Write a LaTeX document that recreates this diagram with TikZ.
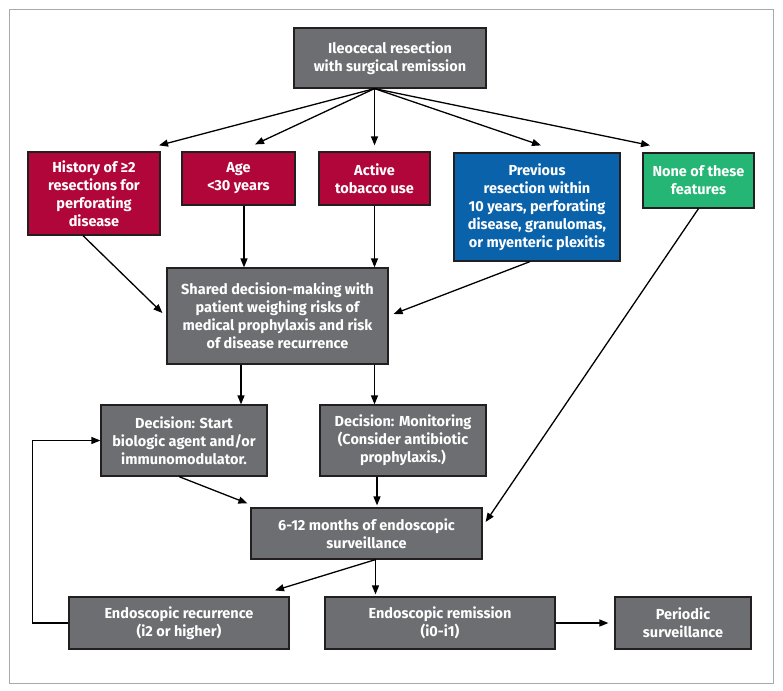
\documentclass[tikz,border=0pt]{standalone}
\usepackage{fontspec}
\setmainfont{Fira Sans}[BoldFont={Fira Sans Bold}]
\usetikzlibrary{arrows.meta}
\definecolor{boxgray}{HTML}{6D6E71}
\definecolor{boxred}{HTML}{B1063A}
\definecolor{boxblue}{HTML}{0A62AA}
\definecolor{boxgreen}{HTML}{25B574}
\definecolor{edge}{HTML}{231F20}
\definecolor{framegray}{HTML}{A7A9AC}
\tikzset{
  box/.style={draw=edge, line width=1.2pt, fill=boxgray, text=white, align=center,
    font=\fontsize{14.5}{18}\selectfont\bfseries, inner sep=2pt},
  redbox/.style={box, fill=boxred},
  bluebox/.style={box, fill=boxblue},
  greenbox/.style={box, fill=boxgreen},
  arr/.style={draw=black, line width=1.3pt, -{Triangle[length=9pt,width=7pt]}},
}
\begin{document}
\begin{tikzpicture}[x=1pt,y=-1pt]
\useasboundingbox (0,0) rectangle (783,690);
\fill[white] (0,0) rectangle (783,690);
\draw[framegray, line width=1pt] (9,10) rectangle (773,683);

\node[box, minimum width=192pt, minimum height=60pt] (top) at (390,58) {Ileocecal resection\\with surgical remission};

\node[redbox, minimum width=132pt, minimum height=83pt] (hist) at (94,193.5) {History of ≥2\\resections for\\perforating\\disease};
\node[redbox, minimum width=113pt, minimum height=53pt] (age) at (238.5,178.5) {Age\\<30 years};
\node[redbox, minimum width=111pt, minimum height=53pt] (act) at (374.5,178.5) {Active\\tobacco use};
\node[bluebox, minimum width=166pt, minimum height=108pt] (prev) at (537,207) {Previous\\resection within\\10 years, perforating\\disease, granulomas,\\or myenteric plexitis};
\node[greenbox, minimum width=111pt, minimum height=55pt] (none) at (698.5,180.5) {None of these\\features};

\node[box, minimum width=221pt, minimum height=96pt] (shared) at (277.5,316) {Shared decision-making with\\patient weighing risks of\\medical prophylaxis and risk\\of disease recurrence};

\node[box, minimum width=166pt, minimum height=71pt] (start) at (184,440.5) {Decision: Start\\biologic agent and/or\\immunomodulator.};
\node[box, minimum width=166pt, minimum height=71pt] (mon) at (403,440.5) {Decision: Monitoring\\(Consider antibiotic\\prophylaxis.)};

\node[box, minimum width=231pt, minimum height=51pt] (surv) at (366.5,533.5) {6-12 months of endoscopic\\surveillance};

\node[box, minimum width=220pt, minimum height=52pt] (rec) at (179,623) {Endoscopic recurrence\\(i2 or higher)};
\node[box, minimum width=230pt, minimum height=52pt] (rem) at (440,623) {Endoscopic remission\\(i0-i1)};
\node[box, minimum width=136pt, minimum height=52pt] (per) at (683,623) {Periodic\\surveillance};

% fan from top
\coordinate (fan) at (top.south -| act.north);
\draw[arr] (fan) -- ([xshift=65pt,yshift=6pt]hist.north);
\draw[arr] (fan) -- ([xshift=16.5pt,yshift=7pt]age.north);
\draw[arr] (fan) -- ([yshift=6pt]act.north);
\draw[arr] (fan) -- ([xshift=4pt,yshift=7pt]prev.north);
\draw[arr] (fan) -- ([xshift=-48.5pt,yshift=7pt]none.north);

% into shared
\draw[arr] ([xshift=-11pt]hist.south) -- ([xshift=-4pt,yshift=3pt]shared.west);
\draw[arr] ([xshift=5.5pt]age.south) -- ([xshift=5.5pt]age.south |- shared.north);
\draw[arr] (act.south) -- (act.south |- shared.north);
\draw[arr] ([xshift=-7pt]prev.south) -- ([xshift=5pt,yshift=2pt]shared.east);

% shared to decisions
\draw[arr] ([xshift=-36.5pt]shared.south) -- ([xshift=-36.5pt]shared.south |- start.north);
\draw[arr] ([xshift=97pt]shared.south) -- ([xshift=97pt]shared.south |- mon.north);

% decisions to surveillance
\draw[arr] ([xshift=-5pt]start.south) -- ([xshift=-3pt,yshift=4pt]surv.north west);
\draw[arr] ([xshift=-26pt]mon.south) -- ([xshift=-26pt,yshift=2pt]mon.south |- surv.north);
\draw[arr] (none.south) -- ([xshift=3pt,yshift=11.5pt]surv.east);

% surveillance outcomes
\draw[arr] ([xshift=9pt]surv.south) -- ([xshift=96pt,yshift=6pt]rec.north);
\draw[arr] ([xshift=9pt]surv.south) -- ([xshift=9pt,yshift=2pt]surv.south |- rem.north);
\draw[arr] (rem.east) -- ([xshift=-6pt]per.west);

% loop back
\draw[arr] (rec.west) -- ++(-36,0) |- (start.west);
\end{tikzpicture}
\end{document}
